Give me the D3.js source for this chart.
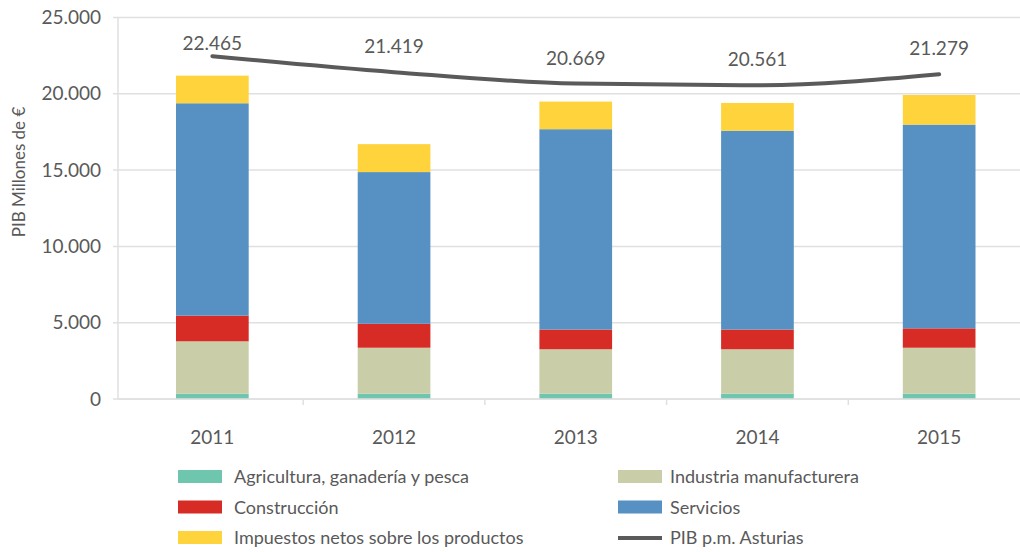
<!DOCTYPE html>
<html><head><meta charset="utf-8">
<script src="https://cdn.jsdelivr.net/npm/d3@7"></script>
<style>
body{margin:0;background:#fff;}
svg text{font-family:Lato,"Noto Sans",sans-serif;fill:#595959;}
</style></head>
<body><svg id="c" width="1020" height="552"></svg>
<script>
const years = ["2011","2012","2013","2014","2015"];
const agricultura = [350, 350, 350, 350, 350];
const industria = [3430, 3010, 2910, 2910, 3010];
const construccion = [1680, 1570, 1290, 1290, 1270];
const servicios = [13920, 9940, 13130, 13030, 13350];
const impuestos = [1810, 1830, 1810, 1820, 1940];
const pib = [22465, 21419, 20669, 20561, 21279];
const pibLabels = ["22.465","21.419","20.669","20.561","21.279"];
const yTicks = [0, 5000, 10000, 15000, 20000, 25000];
const seriesNames = ["Agricultura, ganadería y pesca","Industria manufacturera","Construcción","Servicios","Impuestos netos sobre los productos"];
const lineName = "PIB p.m. Asturias";
const colors = ["#6ec6ae","#c9cea8","#d72b25","#5790c3","#fed33c"];
const lineColor = "#5a5a5a";

const svg = d3.select("#c");
const W = 1020, axisX = 118;
const x = d3.scaleBand().domain(years).range([121.5, 1030]).paddingInner(0.6).paddingOuter(0.3);
const y = d3.scaleLinear().domain([0, 25000]).range([399, 17.5]);
const fmt = v => d3.format(",")(v).replace(/,/g, ".");

// gridlines
svg.append("g").selectAll("line").data(yTicks).join("line")
  .attr("x1", axisX - 5).attr("x2", W).attr("y1", d => y(d)).attr("y2", d => y(d))
  .attr("stroke", "#e0e0e0").attr("stroke-width", 1.5);
// y axis line
svg.append("line").attr("x1", axisX).attr("x2", axisX).attr("y1", y(25000)).attr("y2", y(0))
  .attr("stroke", "#e0e0e0").attr("stroke-width", 1.5);
// y tick labels
svg.append("g").selectAll("text").data(yTicks).join("text")
  .attr("x", 101).attr("y", d => y(d)).attr("dy", "0.35em").attr("text-anchor", "end")
  .attr("font-size", 19).text(d => fmt(d));
// y title
svg.append("text").attr("transform", "translate(25,172) rotate(-90)").attr("text-anchor", "middle")
  .attr("font-size", 17).text("PIB Millones de €");

// stacked bars
const rows = years.map((yr, i) => ({year: yr, s0: agricultura[i], s1: industria[i], s2: construccion[i], s3: servicios[i], s4: impuestos[i]}));
const stack = d3.stack().keys(["s0","s1","s2","s3","s4"])(rows);
svg.append("g").selectAll("g").data(stack).join("g").attr("fill", (d, i) => colors[i])
  .selectAll("rect").data(d => d).join("rect")
  .attr("x", d => x(d.data.year)).attr("width", x.bandwidth())
  .attr("y", d => y(d[1])).attr("height", d => y(d[0]) - y(d[1]));

// x axis
svg.append("line").attr("x1", axisX).attr("x2", W).attr("y1", y(0)).attr("y2", y(0))
  .attr("stroke", "#e0e0e0").attr("stroke-width", 1.5);
const bounds = years.slice(1).map(yr => x(yr) - x.step() * x.paddingInner() / 2);
svg.append("g").selectAll("line").data(bounds).join("line")
  .attr("x1", d => d).attr("x2", d => d).attr("y1", y(0)).attr("y2", y(0) + 6)
  .attr("stroke", "#e0e0e0").attr("stroke-width", 1.5);
svg.append("g").selectAll("text").data(years).join("text")
  .attr("x", d => x(d) + x.bandwidth() / 2).attr("y", 444).attr("text-anchor", "middle")
  .attr("font-size", 19).text(d => d);

// line
const pts = years.map((yr, i) => [x(yr) + x.bandwidth() / 2, y(pib[i])]);
svg.append("path").attr("d", d3.line().curve(d3.curveMonotoneX)(pts))
  .attr("fill", "none").attr("stroke", lineColor).attr("stroke-width", 4).attr("stroke-linecap", "round");
svg.append("g").selectAll("text").data(pts).join("text")
  .attr("x", d => d[0]).attr("y", d => Math.max(50, d[1] - 19)).attr("text-anchor", "middle")
  .attr("font-size", 19).text((d, i) => pibLabels[i]);

// legend
const legendItems = [
  {name: seriesNames[0], c: colors[0], col: 0, row: 0},
  {name: seriesNames[1], c: colors[1], col: 1, row: 0},
  {name: seriesNames[2], c: colors[2], col: 0, row: 1},
  {name: seriesNames[3], c: colors[3], col: 1, row: 1},
  {name: seriesNames[4], c: colors[4], col: 0, row: 2},
  {name: lineName, c: lineColor, col: 1, row: 2, line: true}
];
const lg = svg.append("g").selectAll("g").data(legendItems).join("g")
  .attr("transform", d => `translate(${d.col ? 618 : 178},${477 + d.row * 30.5})`);
lg.filter(d => !d.line).append("rect").attr("x", 0).attr("y", -7).attr("width", 44).attr("height", 13).attr("fill", d => d.c);
lg.filter(d => d.line).append("line").attr("x1", 0).attr("x2", 44).attr("y1", 0).attr("y2", 0)
  .attr("stroke", d => d.c).attr("stroke-width", 4);
lg.append("text").attr("x", d => d.col ? 52 : 56).attr("y", 0).attr("dy", "0.35em")
  .attr("font-size", 18).text(d => d.name);
</script></body></html>
